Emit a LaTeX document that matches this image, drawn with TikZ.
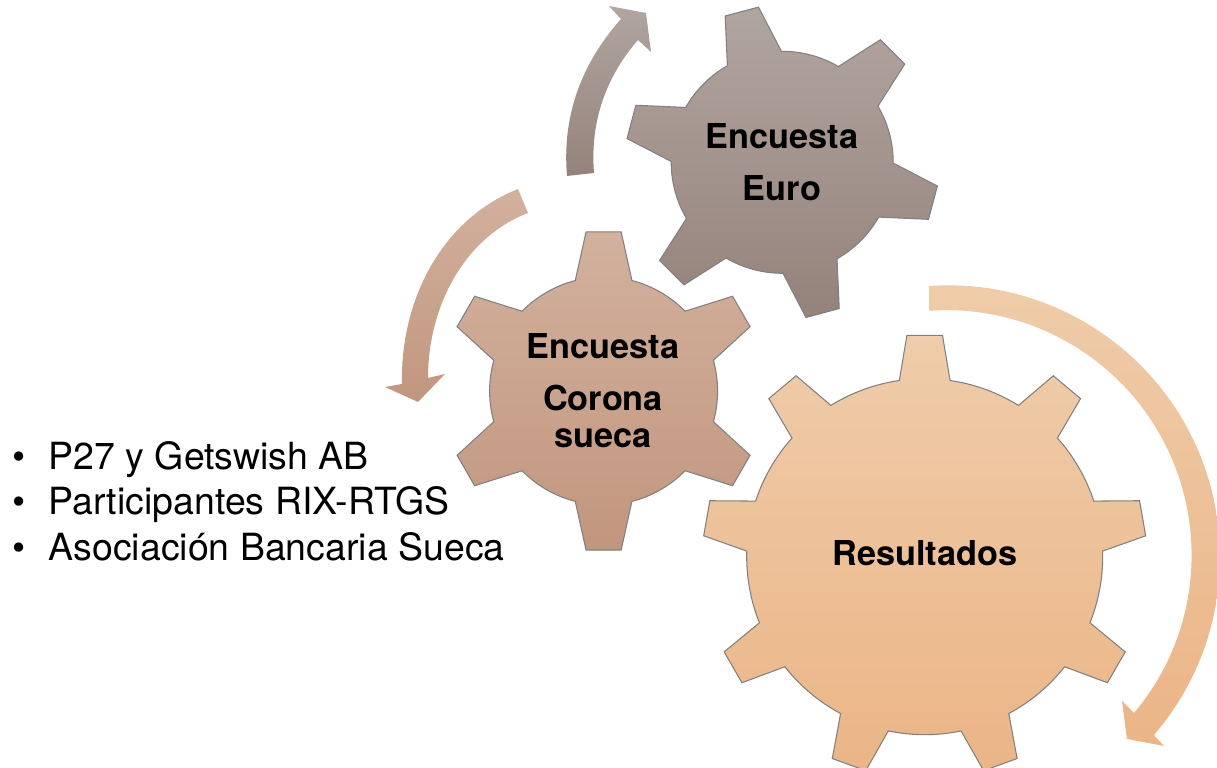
\documentclass[tikz,border=0pt]{standalone}
\usepackage{fontspec}
\setmainfont{TeX Gyre Heros}

\definecolor{euroTop}{HTML}{B1A59F}
\definecolor{euroBot}{HTML}{94837B}
\definecolor{coronaTop}{HTML}{D2B19E}
\definecolor{coronaBot}{HTML}{C2967E}
\definecolor{resTop}{HTML}{EFCCAA}
\definecolor{resBot}{HTML}{EBB586}

\tikzset{
    gearedge/.style={draw=black!50, line width=0.3pt},
    gearlabel/.style={font=\fontsize{9.75}{10.5}\selectfont\bfseries, align=center, inner sep=0pt},
    listlabel/.style={font=\fontsize{10.65}{12.9}\selectfont, align=left, anchor=west, inner sep=0pt}
}

% phase, teeth-1, step, body radius, tip radius, base half angle, tip half angle
\newcommand{\gearpath}[7]{
    ({#1-#6}:#4)
    \foreach \i in {0,...,#2} {
        -- ({#1+\i*#3-#6}:#4) -- ({#1+\i*#3-#7}:#5) -- ({#1+\i*#3+#7}:#5) -- ({#1+\i*#3+#6}:#4)
        arc[start angle={#1+\i*#3+#6}, end angle={#1+(\i+1)*#3-#6}, radius=#4]
    }
    -- cycle
}
\newcommand{\bulletitem}[1]{\makebox[0.36cm][l]{•}#1}

\begin{document}
\begin{tikzpicture}[x=0.01cm, y=-0.01cm]
    \useasboundingbox (0, 0) rectangle (1217, 768);

    \path[top color=euroTop, bottom color=euroBot] (567, 176) .. controls (562, 116) and (581, 64) .. (621, 19)
        -- (609, 6) -- (646, 13) -- (651, 52) -- (638, 40)
        .. controls (605, 78) and (590, 123) .. (594, 173) -- cycle;
    \path[top color=coronaTop, bottom color=coronaBot] (518, 189) .. controls (442, 219) and (400, 300) .. (402, 384)
        -- (385, 387) -- (418, 402) -- (445, 374) -- (428, 378)
        .. controls (428, 308) and (463, 238) .. (528, 213) -- cycle;
    \path[top color=resTop, bottom color=resBot] (929, 286) arc[start angle=-94, end angle=40.8, radius=272]
        -- (1164, 746) -- (1127, 739) -- (1122, 701) -- (1134, 713)
        arc[start angle=40.1, end angle=-94, radius=245] -- cycle;

    \path[gearedge, shift={(782.2, 162.3)}, top color=euroTop, bottom color=euroBot]
        \gearpath{-105}{5}{60}{111}{157}{14.6}{6.3};
    \path[gearedge, shift={(603.6, 391)}, top color=coronaTop, bottom color=coronaBot]
        \gearpath{-90}{5}{60}{114}{160}{14.4}{6.3};
    \path[gearedge, shift={(924.7, 556.7)}, top color=resTop, bottom color=resBot]
        \gearpath{-90}{8}{40}{178}{222}{8.2}{4.6};

    \node[gearlabel] (euro) at (782, 162) {Encuesta\\[4.3pt]Euro};
    \node[gearlabel] (corona) at (603, 391) {Encuesta\\[4.3pt]Corona\\sueca};
    \node[gearlabel] (resultados) at (925, 553) {Resultados};
    \node[listlabel] (lista) at (12, 501) {\bulletitem{P27 y Getswish AB}\\\bulletitem{Participantes RIX-RTGS}\\\bulletitem{Asociación Bancaria Sueca}};
\end{tikzpicture}
\end{document}
